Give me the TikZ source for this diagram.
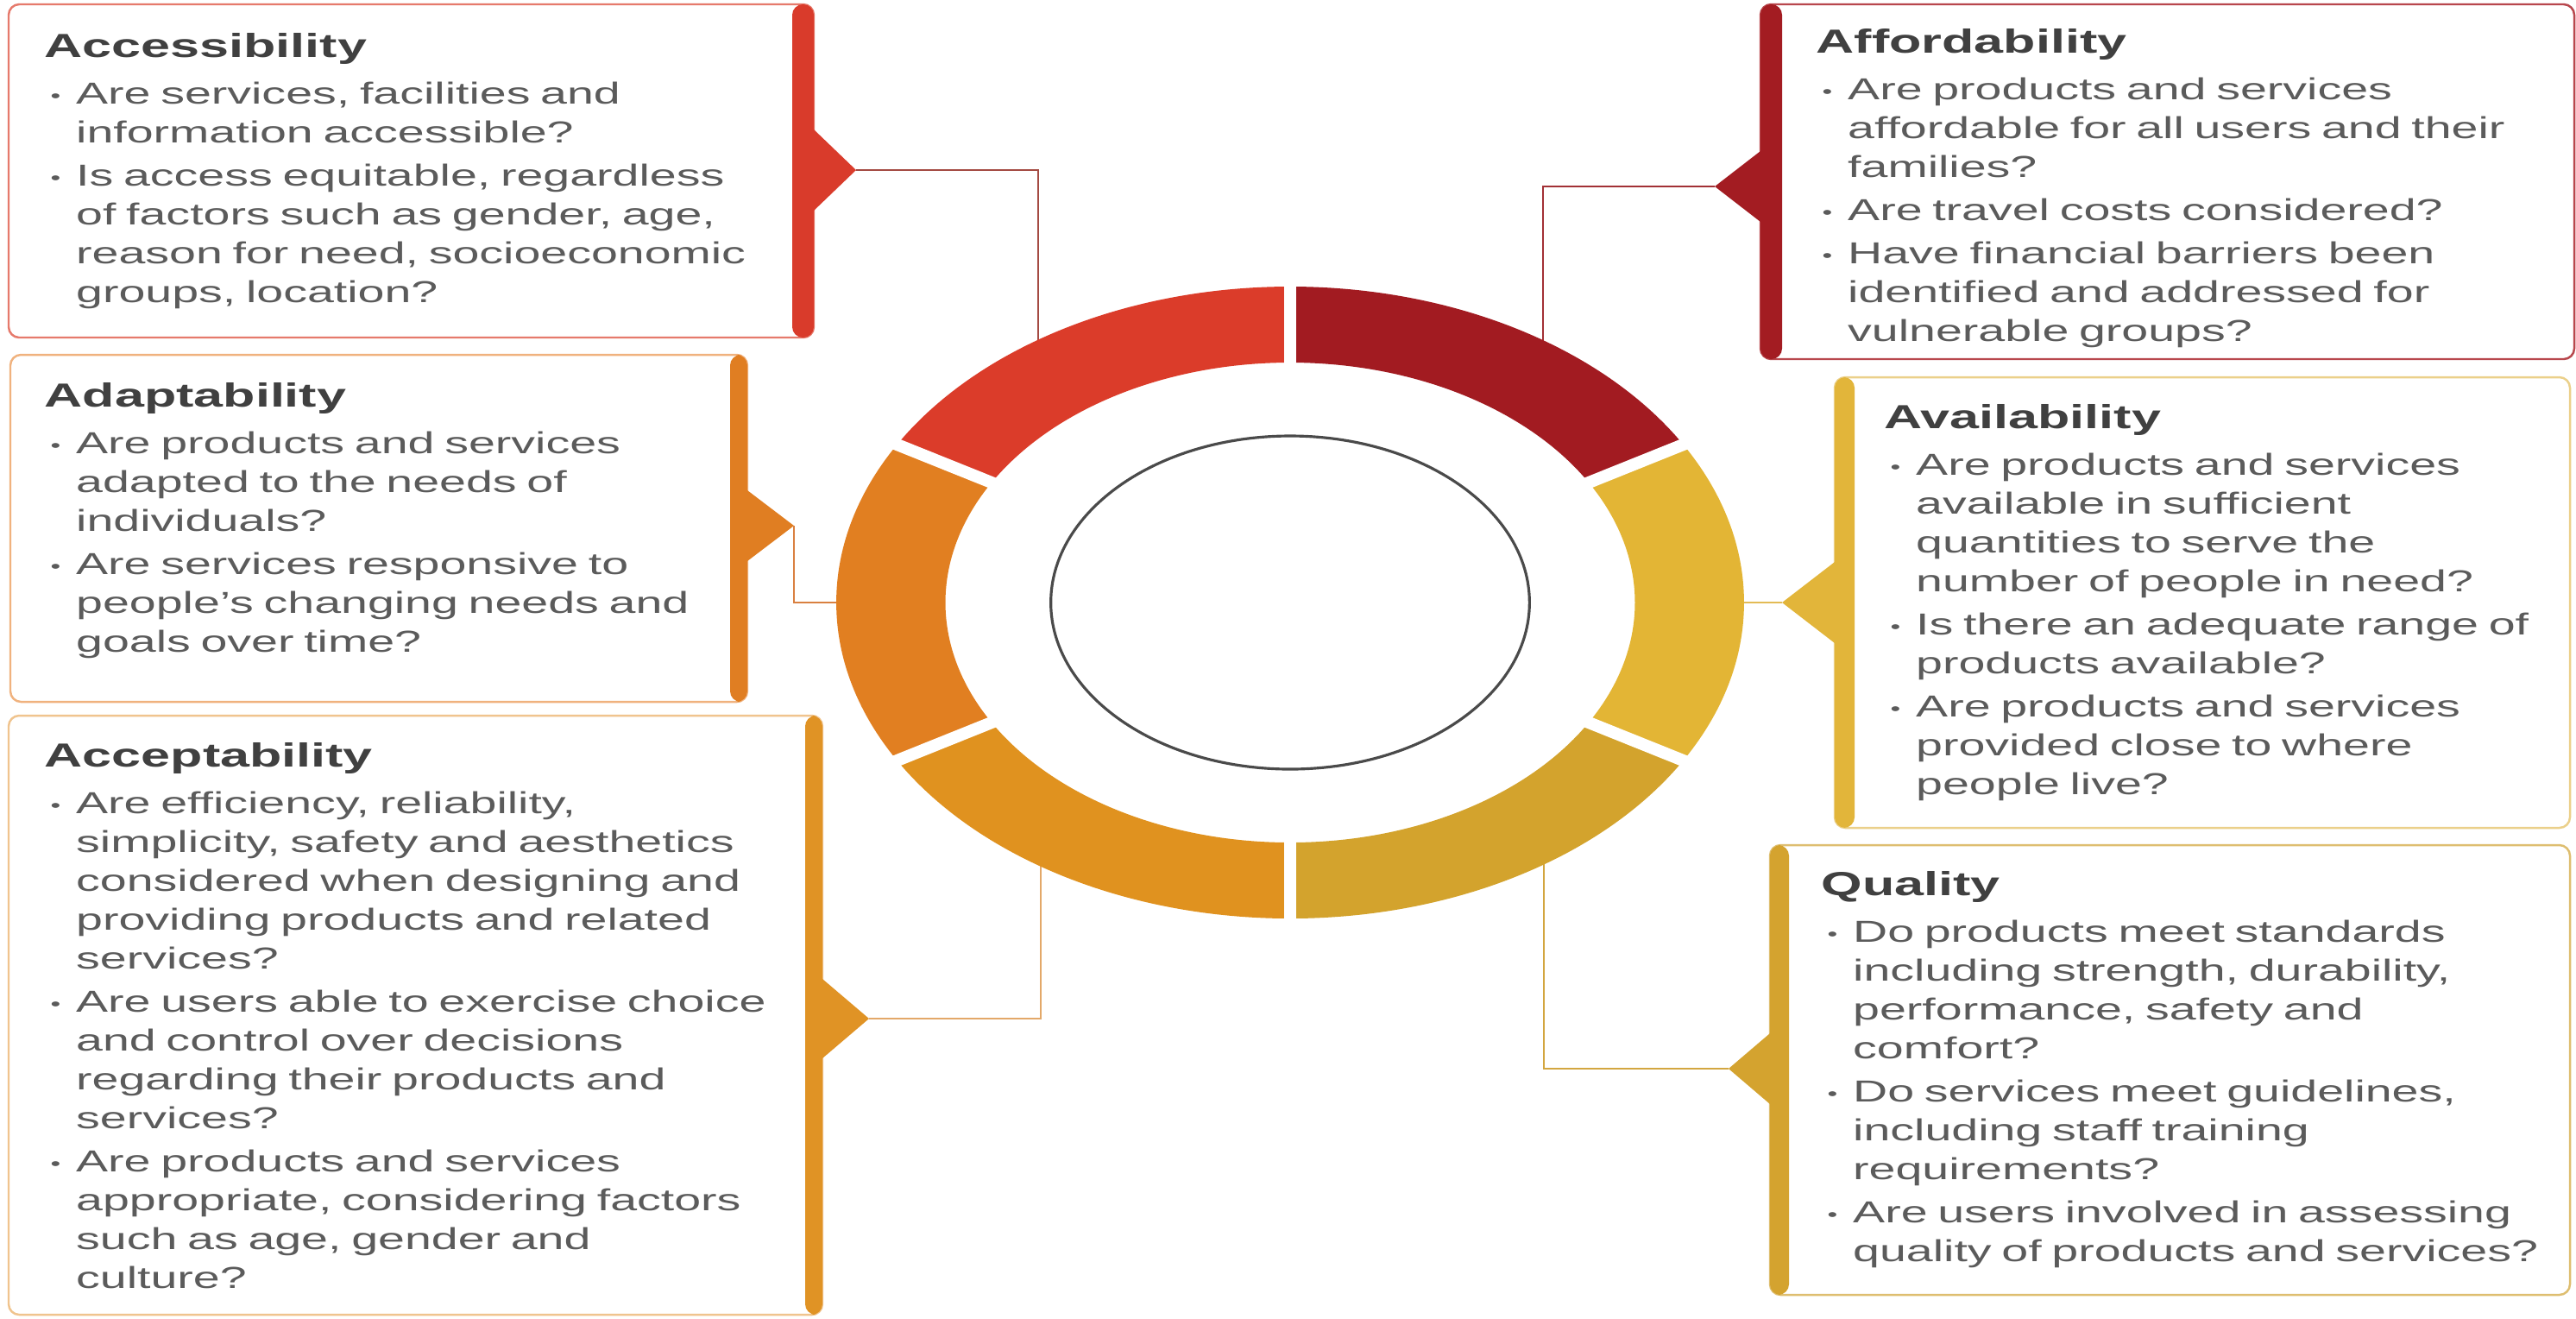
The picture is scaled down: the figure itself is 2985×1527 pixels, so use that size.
\documentclass[tikz,border=0pt]{standalone}
\usepackage{fontspec}
\setmainfont{Liberation Sans}[FakeStretch=1.58]
\usetikzlibrary{calc}
\definecolor{accC}{HTML}{D93B2B}\definecolor{accL}{HTML}{E67A6C}\definecolor{accD}{HTML}{A44A42}
\definecolor{affC}{HTML}{A31C22}\definecolor{affL}{HTML}{B8474D}\definecolor{affD}{HTML}{A23035}
\definecolor{adpC}{HTML}{E07E22}\definecolor{adpL}{HTML}{F0B27E}\definecolor{adpD}{HTML}{D98040}
\definecolor{avaC}{HTML}{E2B53A}\definecolor{avaL}{HTML}{EBD08A}\definecolor{avaD}{HTML}{E3BB55}
\definecolor{acpC}{HTML}{E09325}\definecolor{acpL}{HTML}{F0C48E}\definecolor{acpD}{HTML}{E3A869}
\definecolor{quaC}{HTML}{D4A32F}\definecolor{quaL}{HTML}{DEBE70}\definecolor{quaD}{HTML}{D3A640}
\definecolor{ringAcc}{HTML}{DB3C2A}\definecolor{ringAff}{HTML}{A21B21}
\definecolor{ringAdp}{HTML}{E17F21}\definecolor{ringAva}{HTML}{E3B535}
\definecolor{ringAcp}{HTML}{E0921F}\definecolor{ringQua}{HTML}{D3A32D}
\definecolor{ringgray}{HTML}{4A4A4A}
\definecolor{titlegray}{HTML}{404040}\definecolor{bodygray}{HTML}{5B5B5B}
\setlength{\parindent}{0pt}
\newcommand{\qtitle}[1]{\noindent{\fontsize{11}{12.8}\selectfont\bfseries\color{titlegray}\rule{0pt}{8.5pt}#1\par}\vspace{1.2pt}}
\newcommand{\qitem}[1]{\vspace{1.4pt}{\leftskip=3.65mm\noindent\llap{\makebox[2.95mm][l]{\raisebox{0.5pt}{\fontsize{6}{6}\selectfont\textbullet}}}#1\par}}
\begin{document}
\begin{tikzpicture}[x=0.1mm, y=-0.1mm,
    qbox/.style={draw=#1, line width=0.7pt, rounded corners=3.5pt, inner sep=0pt, outer sep=0pt, anchor=north west},
    qtext/.style={anchor=north west, inner sep=0pt, text width=92mm, text=bodygray, font=\fontsize{10}{12.8}\selectfont},
    link/.style={line width=0.6pt}]
  \useasboundingbox (0,0) rectangle (2985,1527);
  \fill[white] (0,0) rectangle (2985,1527);
  % boxes
  \node[qbox=accL, minimum width=93.3mm, minimum height=38.6mm] (acc) at (10,5) {};
  \node[qbox=adpL, minimum width=85.4mm, minimum height=40.2mm] (adp) at (12,411) {};
  \node[qbox=acpL, minimum width=94.3mm, minimum height=69.4mm] (acp) at (10,829) {};
  \node[qbox=affL, minimum width=94.3mm, minimum height=41.1mm] (aff) at (2040,5) {};
  \node[qbox=avaL, minimum width=85.2mm, minimum height=52.2mm] (ava) at (2126,437) {};
  \node[qbox=quaL, minimum width=92.7mm, minimum height=52.1mm] (qua) at (2051,979) {};
  \fill[accC, rounded corners=3.5pt] ([xshift=-2.5mm]acc.north east) rectangle (acc.south east);
  \fill[adpC, rounded corners=3.5pt] ([xshift=-2.0mm]adp.north east) rectangle (adp.south east);
  \fill[acpC, rounded corners=3.5pt] ([xshift=-2.0mm]acp.north east) rectangle (acp.south east);
  \fill[affC, rounded corners=3.5pt] (aff.north west) rectangle ([xshift=2.5mm]aff.south west);
  \fill[avaC, rounded corners=3.5pt] (ava.north west) rectangle ([xshift=2.3mm]ava.south west);
  \fill[quaC, rounded corners=3.5pt] (qua.north west) rectangle ([xshift=2.2mm]qua.south west);
  % pointers
  \coordinate (acc-tip) at (992,197);
  \coordinate (adp-tip) at (920,609);
  \coordinate (acp-tip) at (1007,1180);
  \coordinate (aff-tip) at (1987,216);
  \coordinate (ava-tip) at (2065,698);
  \coordinate (qua-tip) at (2003,1238);
  \fill[accC] ($(acc-tip -| acc.east)+(0,-47)$) -- (acc-tip) -- ($(acc-tip -| acc.east)+(0,47)$) -- cycle;
  \fill[adpC] ($(adp-tip -| adp.east)+(0,-41)$) -- (adp-tip) -- ($(adp-tip -| adp.east)+(0,41)$) -- cycle;
  \fill[acpC] ($(acp-tip -| acp.east)+(0,-46)$) -- (acp-tip) -- ($(acp-tip -| acp.east)+(0,46)$) -- cycle;
  \fill[affC] ($(aff-tip -| aff.west)+(0,-41)$) -- (aff-tip) -- ($(aff-tip -| aff.west)+(0,41)$) -- cycle;
  \fill[avaC] ($(ava-tip -| ava.west)+(0,-47)$) -- (ava-tip) -- ($(ava-tip -| ava.west)+(0,47)$) -- cycle;
  \fill[quaC] ($(qua-tip -| qua.west)+(0,-41)$) -- (qua-tip) -- ($(qua-tip -| qua.west)+(0,41)$) -- cycle;
  % connectors
  \coordinate (acc-ring) at (1203,402);
  \coordinate (adp-ring) at (976,698);
  \coordinate (acp-ring) at (1206,994);
  \coordinate (aff-ring) at (1788,402);
  \coordinate (ava-ring) at (2014,698);
  \coordinate (qua-ring) at (1789,994);
  \draw[link, accD] (acc-tip) -| (acc-ring);
  \draw[link, adpD] (adp-tip) |- (adp-ring);
  \draw[link, acpD] (acp-tip) -| (acp-ring);
  \draw[link, affD] (aff-tip) -| (aff-ring);
  \draw[link, avaD] (ava-tip) -- (ava-ring);
  \draw[link, quaD] (qua-tip) -| (qua-ring);
  % ring
  \begin{scope}[shift={(1495,698)}, x=0.1437mm, y=0.1mm]
    \fill[ringAff] (30:366) arc[start angle=30, end angle=90, radius=366] -- (90:278) arc[start angle=90, end angle=30, radius=278] -- cycle;
    \fill[ringAcc] (90:366) arc[start angle=90, end angle=150, radius=366] -- (150:278) arc[start angle=150, end angle=90, radius=278] -- cycle;
    \fill[ringAdp] (150:366) arc[start angle=150, end angle=210, radius=366] -- (210:278) arc[start angle=210, end angle=150, radius=278] -- cycle;
    \fill[ringAcp] (210:366) arc[start angle=210, end angle=270, radius=366] -- (270:278) arc[start angle=270, end angle=210, radius=278] -- cycle;
    \fill[ringQua] (270:366) arc[start angle=270, end angle=330, radius=366] -- (330:278) arc[start angle=330, end angle=270, radius=278] -- cycle;
    \fill[ringAva] (-30:366) arc[start angle=-30, end angle=30, radius=366] -- (30:278) arc[start angle=30, end angle=-30, radius=278] -- cycle;
    \foreach \a in {30,90,...,330} \draw[white, line width=1.4mm] (\a:260) -- (\a:390);
    \draw[ringgray, line width=0.9pt] (0,0) circle[radius=193];
  \end{scope}
  % texts
  \node[qtext] (acc-txt) at (51,36) {\qtitle{Accessibility}
    \qitem{Are services, facilities and\\information accessible?}
    \qitem{Is access equitable, regardless\\of factors such as gender, age,\\reason for need, socioeconomic\\groups, location?}};
  \node[qtext] (adp-txt) at (51,441) {\qtitle{Adaptability}
    \qitem{Are products and services\\adapted to the needs of\\individuals?}
    \qitem{Are services responsive to\\people's changing needs and\\goals over time?}};
  \node[qtext] (acp-txt) at (51,858) {\qtitle{Acceptability}
    \qitem{Are efficiency, reliability,\\simplicity, safety and aesthetics\\considered when designing and\\providing products and related\\services?}
    \qitem{Are users able to exercise choice\\and control over decisions\\regarding their products and\\services?}
    \qitem{Are products and services\\appropriate, considering factors\\such as age, gender and\\culture?}};
  \node[qtext] (aff-txt) at (2104,31) {\qtitle{Affordability}
    \qitem{Are products and services\\affordable for all users and their\\families?}
    \qitem{Are travel costs considered?}
    \qitem{Have financial barriers been\\identified and addressed for\\vulnerable groups?}};
  \node[qtext] (ava-txt) at (2183,466) {\qtitle{Availability}
    \qitem{Are products and services\\available in sufficient\\quantities to serve the\\number of people in need?}
    \qitem{Is there an adequate range of\\products available?}
    \qitem{Are products and services\\provided close to where\\people live?}};
  \node[qtext] (qua-txt) at (2110,1007) {\qtitle{Quality}
    \qitem{Do products meet standards\\including strength, durability,\\performance, safety and\\comfort?}
    \qitem{Do services meet guidelines,\\including staff training\\requirements?}
    \qitem{Are users involved in assessing\\quality of products and services?}};
\end{tikzpicture}
\end{document}
